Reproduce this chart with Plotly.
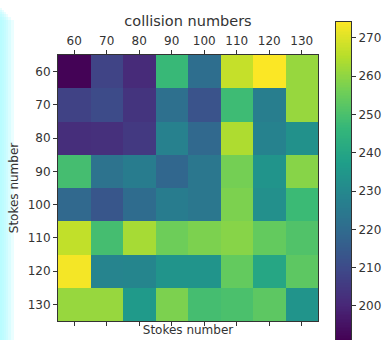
import plotly.graph_objects as go

# Grid coordinates
collision_numbers = [60, 70, 80, 90, 100, 110, 120, 130]
stokes_numbers = [60, 70, 80, 90, 100, 110, 120, 130]

# Measured values, one row per Stokes number
values = [
    [191.5, 208.0, 201.0, 247.0, 221.0, 267.0, 274.0, 261.0],
    [207.5, 210.0, 203.5, 221.5, 212.5, 248.0, 226.5, 261.0],
    [202.0, 202.5, 205.0, 227.5, 219.0, 264.0, 228.0, 233.0],
    [249.0, 222.5, 226.0, 218.5, 224.0, 256.5, 234.0, 259.0],
    [219.0, 213.5, 220.0, 226.0, 224.0, 257.5, 232.5, 247.5],
    [266.5, 249.0, 263.0, 255.5, 257.5, 259.0, 254.0, 251.0],
    [273.0, 228.5, 229.0, 234.0, 234.0, 254.0, 240.0, 253.0],
    [261.0, 261.0, 236.0, 257.5, 249.0, 250.0, 253.0, 234.0],
]
colorbar_ticks = [200, 210, 220, 230, 240, 250, 260, 270]
z_min, z_max = 191.0, 274.2

W, H = 388, 340


def fx(px):
    return px / W


def fy(py):
    return 1 - py / H


ink = "#333333"
font = dict(family="DejaVu Sans", size=12, color=ink)

fig = go.Figure()
fig.add_trace(go.Heatmap(
    x=collision_numbers,
    y=stokes_numbers,
    z=values,
    colorscale="Viridis",
    zmin=z_min,
    zmax=z_max,
    showscale=False,
))

# Invisible trace carrying the bottom axis
fig.add_trace(go.Scatter(
    x=collision_numbers, y=stokes_numbers, xaxis="x2",
    mode="markers", marker=dict(opacity=0), hoverinfo="skip", showlegend=False,
))

# Colour bar as its own strip, running off the bottom of the page
n_steps = 200
bar_levels = [z_min + (z_max - z_min) * i / (n_steps - 1) for i in range(n_steps)]
fig.add_trace(go.Heatmap(
    x=[0], y=bar_levels, z=[[v] for v in bar_levels],
    xaxis="x3", yaxis="y3",
    colorscale="Viridis", zmin=z_min, zmax=z_max,
    showscale=False, hoverinfo="skip",
))

fig.update_layout(
    width=W, height=H,
    margin=dict(l=0, r=0, t=0, b=0, pad=0),
    paper_bgcolor="white",
    plot_bgcolor="white",
    font=font,
    xaxis=dict(
        domain=[fx(58), fx(318)],
        anchor="y",
        side="top",
        range=[55, 135],
        tickvals=collision_numbers,
        ticks="outside", ticklen=4, tickcolor=ink,
        showline=True, linecolor=ink, linewidth=1, mirror=True,
        showgrid=False, zeroline=False,
        tickfont=font,
        automargin=False,
        title=dict(text="collision numbers",
                   font=dict(family="DejaVu Sans", size=14.5, color=ink), standoff=4),
    ),
    xaxis2=dict(
        overlaying="x",
        side="bottom",
        anchor="y",
        range=[55, 135],
        tickvals=collision_numbers,
        ticks="outside", ticklen=4, tickcolor=ink,
        showticklabels=False,
        showgrid=False, zeroline=False,
        automargin=False,
        title=dict(text="Stokes number", font=font, standoff=0),
    ),
    yaxis=dict(
        domain=[fy(321), fy(55)],
        anchor="x",
        range=[135, 55],
        tickvals=stokes_numbers,
        ticks="outside", ticklen=4, tickcolor=ink,
        showline=True, linecolor=ink, linewidth=1, mirror=True,
        showgrid=False, zeroline=False,
        tickfont=font,
        automargin=False,
        title=dict(text="Stokes number", font=font, standoff=6),
    ),
    xaxis3=dict(
        domain=[fx(336), fx(351)],
        anchor="y3",
        range=[-0.5, 0.5],
        showticklabels=False, ticks="",
        showline=True, linecolor=ink, linewidth=1, mirror=True,
        showgrid=False, zeroline=False,
    ),
    yaxis3=dict(
        domain=[0, fy(21.7)],
        anchor="x3",
        side="right",
        range=[191.1, z_max],
        tickvals=colorbar_ticks,
        ticks="outside", ticklen=4, tickcolor=ink,
        showline=True, linecolor=ink, linewidth=1, mirror=True,
        showgrid=False, zeroline=False,
        tickfont=font,
        automargin=False,
    ),
)

# Soft cyan glow along the left edge of the page
glow = "rgba(170,250,255,0.25)"
for w in [2, 4, 6, 8, 11, 14]:
    fig.add_shape(type="rect", xref="paper", yref="paper",
                  x0=fx(0), x1=fx(w), y0=fy(H), y1=fy(6 + w),
                  fillcolor=glow, line_width=0, layer="below")

fig.write_html("out.html")
